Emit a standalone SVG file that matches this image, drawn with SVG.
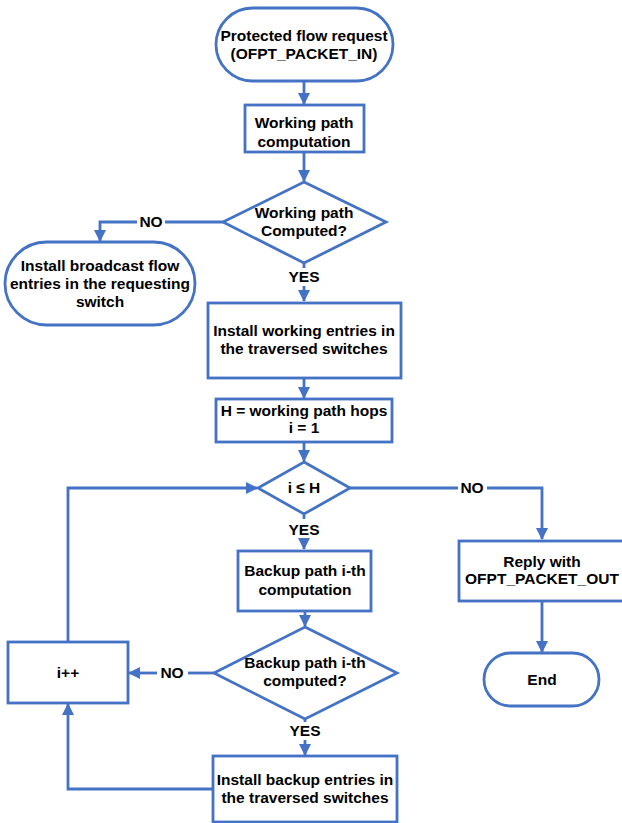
<svg xmlns="http://www.w3.org/2000/svg" width="622" height="823" viewBox="0 0 622 823">
  <style>
    .shape { fill: #ffffff; stroke: #4472C4; stroke-width: 2.8; }
    .line { fill: none; stroke: #4472C4; stroke-width: 2.8; }
    .arrow { fill: none; stroke: #4472C4; stroke-width: 2.8; marker-end: url(#head); }
    text { font-family: "Liberation Sans", Arial, sans-serif; font-weight: bold; font-size: 15.5px; fill: #000000; text-anchor: middle; }
  </style>
  <defs>
    <marker id="head" markerUnits="userSpaceOnUse" markerWidth="14" markerHeight="14" refX="11" refY="7" orient="auto">
      <path d="M0,1 L12,7 L0,13 Z" fill="#4472C4"/>
    </marker>
  </defs>
  <rect width="622" height="823" fill="#ffffff"/>

  <!-- connectors -->
  <g id="connectors">
    <path class="arrow" d="M304,81 V104"/>
    <path class="arrow" d="M304,152 V181"/>
    <path class="line" d="M223,222 H165"/>
    <path class="arrow" d="M137,222 H100 V241"/>
    <path class="line" d="M304,263 V268"/>
    <path class="arrow" d="M304,286 V301"/>
    <path class="arrow" d="M304,378 V398"/>
    <path class="arrow" d="M304,442 V461"/>
    <path class="arrow" d="M68,642 V488 H257"/>
    <path class="line" d="M350,488 H458"/>
    <path class="arrow" d="M487,488 H542 V539"/>
    <path class="line" d="M304,514 V519"/>
    <path class="arrow" d="M304,538 V549"/>
    <path class="arrow" d="M305,611 V626"/>
    <path class="line" d="M214,673 H188"/>
    <path class="arrow" d="M157,673 H129"/>
    <path class="line" d="M305,719 V722"/>
    <path class="arrow" d="M305,740 V755"/>
    <path class="arrow" d="M213,789 H68 V704"/>
    <path class="arrow" d="M542,601 V652"/>
  </g>

  <!-- connector labels -->
  <g id="labels">
    <text x="151" y="227">NO</text>
    <text x="304" y="282">YES</text>
    <text x="472" y="493">NO</text>
    <text x="304" y="535">YES</text>
    <text x="172" y="678">NO</text>
    <text x="305" y="736">YES</text>
  </g>

  <g id="start">
    <rect class="shape" x="216" y="8" width="177" height="73" rx="36.5"/>
    <text x="304" y="41">Protected flow request</text>
    <text x="304" y="59">(OFPT_PACKET_IN)</text>
  </g>

  <g id="working-path">
    <rect class="shape" x="245" y="105" width="119" height="47"/>
    <text x="304" y="128">Working path</text>
    <text x="304" y="147">computation</text>
  </g>

  <g id="working-check">
    <polygon class="shape" points="304,182 386,222 304,263 223,222"/>
    <text x="304" y="218">Working path</text>
    <text x="304" y="236">Computed?</text>
  </g>

  <g id="broadcast">
    <rect class="shape" x="5" y="242" width="190" height="83" rx="41.5"/>
    <text x="100" y="271">Install broadcast flow</text>
    <text x="100" y="289">entries in the requesting</text>
    <text x="100" y="307">switch</text>
  </g>

  <g id="install-working">
    <rect class="shape" x="208" y="303" width="193" height="75"/>
    <text x="304" y="336">Install working entries in</text>
    <text x="304" y="354">the traversed switches</text>
  </g>

  <g id="init">
    <rect class="shape" x="216" y="399" width="176" height="43"/>
    <text x="304" y="416">H = working path hops</text>
    <text x="304" y="433">i = 1</text>
  </g>

  <g id="loop-check">
    <polygon class="shape" points="304,462 350,488 304,514 258,488"/>
    <text x="304" y="493">i ≤ H</text>
  </g>

  <g id="backup-path">
    <rect class="shape" x="238" y="551" width="133" height="60"/>
    <text x="305" y="576">Backup path i-th</text>
    <text x="305" y="595">computation</text>
  </g>

  <g id="backup-check">
    <polygon class="shape" points="305,627 397,673 305,719 214,673"/>
    <text x="305" y="668">Backup path i-th</text>
    <text x="305" y="686">computed?</text>
  </g>

  <g id="increment">
    <rect class="shape" x="8" y="642" width="120" height="61"/>
    <text x="68" y="678">i++</text>
  </g>

  <g id="install-backup">
    <rect class="shape" x="213" y="756" width="184" height="66"/>
    <text x="305" y="785">Install backup entries in</text>
    <text x="305" y="803">the traversed switches</text>
  </g>

  <g id="reply">
    <rect class="shape" x="459" y="541" width="170" height="60"/>
    <text x="542" y="567">Reply with</text>
    <text x="542" y="584">OFPT_PACKET_OUT</text>
  </g>

  <g id="end">
    <rect class="shape" x="484" y="653" width="115" height="53" rx="26.5"/>
    <text x="542" y="685">End</text>
  </g>
</svg>
